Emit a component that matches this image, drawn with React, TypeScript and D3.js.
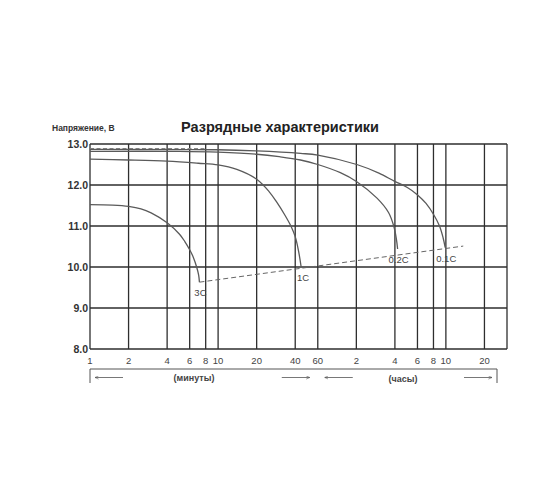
import React from 'react';
import * as d3 from 'd3';

// время в минутах, напряжение в вольтах
const curve3C: [number, number][] = [
    [1, 11.52], [1.5, 11.51], [2, 11.48], [2.5, 11.42], [3, 11.32], [4, 11.08],
    [5, 10.8], [5.5, 10.62], [6, 10.42], [6.4, 10.24], [6.8, 10.0], [7.05, 9.8], [7.15, 9.63],
];
const curve1C: [number, number][] = [
    [1, 12.63], [2, 12.61], [4, 12.58], [7, 12.53], [10, 12.49], [14, 12.38],
    [20, 12.14], [25, 11.84], [28.7, 11.58], [33, 11.28], [37, 11.0], [40, 10.74],
    [42.4, 10.4], [44.5, 10.0],
];
const curve02C: [number, number][] = [
    [1, 12.82], [5, 12.82], [10, 12.8], [20, 12.75], [30, 12.69], [44, 12.61],
    [60, 12.5], [90, 12.3], [121, 12.08], [174, 11.68], [214, 11.33], [235, 11.0],
    [246, 10.7], [252, 10.44],
];
const curve01C: [number, number][] = [
    [1, 12.87], [10, 12.86], [20, 12.83], [44, 12.77], [60, 12.73], [121, 12.5],
    [180, 12.29], [239, 12.09], [300, 11.94], [357, 11.77], [420, 11.55], [481, 11.28],
    [535, 11.0], [570, 10.72], [593, 10.47],
];
const curves = [
    { name: '3C', points: curve3C },
    { name: '1C', points: curve1C },
    { name: '0.2C', points: curve02C },
    { name: '0.1C', points: curve01C },
];
const chargedLine: [number, number][] = [[1, 12.89], [8, 12.89]];
const cutoffLine: [number, number][] = [[7.15, 9.63], [820, 10.51]];

const minuteTicks = [1, 2, 4, 6, 8, 10, 20, 40, 60, 120, 240, 360, 480, 600, 1200];
const tickLabels = ['1', '2', '4', '6', '8', '10', '20', '40', '60', '2', '4', '6', '8', '10', '20'];
const xMax = 1800;
const voltTicks = [8, 9, 10, 11, 12, 13];

const font = '"Liberation Sans", Arial, sans-serif';

const App: React.FC = () => {
    const x = d3.scaleLog().domain([1, xMax]).range([90, 507]);
    const y = d3.scaleLinear().domain([8, 13]).range([349, 144]);
    const line = d3.line<[number, number]>()
        .x(d => x(d[0]))
        .y(d => y(d[1]))
        .curve(d3.curveCatmullRom.alpha(0.5));
    const straight = d3.line<[number, number]>().x(d => x(d[0])).y(d => y(d[1]));

    const [x0, x1] = x.range();
    const [yb, yt] = y.range();
    const brY = 369;
    const brRight = x1 - 10;
    const arrowY = 377.5;
    const hourStart = x(60) + 7;

    return (
        <svg width={560} height={504} style={{ position: 'absolute', left: 0, top: 0, background: '#fff' }}
            fontFamily={font}>
            <defs>
                <marker id="ah" viewBox="0 0 10 10" refX="9" refY="5" markerWidth="5" markerHeight="5" orient="auto-start-reverse">
                    <path d="M0,1 L9,5 L0,9" fill="none" stroke="#555" strokeWidth="1.4" />
                </marker>
            </defs>
            <rect width={560} height={504} fill="#fff" />

            <text x={280} y={132} textAnchor="middle" fontSize={14.5} fontWeight="bold" fill="#222">
                Разрядные характеристики
            </text>
            <text x={52} y={131} fontSize={8.5} fontWeight="bold" fill="#333">Напряжение, В</text>

            {/* сетка */}
            <g stroke="#2e2e2e" strokeWidth={1.3}>
                {voltTicks.map(v => (
                    <line key={'h' + v} x1={x0} x2={x1} y1={y(v)} y2={y(v)} />
                ))}
                {[...minuteTicks, xMax].map(t => (
                    <line key={'v' + t} x1={x(t)} x2={x(t)} y1={yt} y2={yb} />
                ))}
            </g>

            {voltTicks.map(v => (
                <text key={'yl' + v} x={88} y={y(v)} dy="0.36em" textAnchor="end" fontSize={10.5}
                    fontWeight="bold" fill="#333">{v.toFixed(1)}</text>
            ))}
            {minuteTicks.map((t, i) => (
                <text key={'xl' + t} x={x(t)} y={364} textAnchor="middle" fontSize={9.5} fill="#444">
                    {tickLabels[i]}
                </text>
            ))}

            {/* кривые разряда */}
            <path d={straight(chargedLine)!} fill="none" stroke="#888" strokeWidth={1.2} strokeDasharray="4,2.5" />
            {curves.map(c => (
                <path key={c.name} d={line(c.points)!} fill="none" stroke="#5a5a5a" strokeWidth={1.3} />
            ))}
            <path d={straight(cutoffLine)!} fill="none" stroke="#666" strokeWidth={1} strokeDasharray="5,3" />
            {curves.map(c => {
                const end = c.points[c.points.length - 1];
                return (
                    <text key={'l' + c.name} x={x(end[0]) + (c.name === '1C' ? 2 : 1)} y={y(end[1]) + 11}
                        dy="0.35em" textAnchor="middle" fontSize={9.5} fill="#444">{c.name}</text>
                );
            })}

            {/* шкала времени */}
            <g stroke="#555" strokeWidth={1} fill="none">
                <line x1={x0} x2={brRight} y1={brY} y2={brY} />
                <line x1={x0} x2={x0} y1={brY} y2={brY + 14} />
                <line x1={brRight} x2={brRight} y1={brY} y2={brY + 14} />
            </g>
            <g stroke="#555" strokeWidth={0.8}>
                <line x1={x0 + 33} x2={x0 + 5} y1={arrowY} y2={arrowY} markerEnd="url(#ah)" />
                <line x1={x(60) - 36} x2={x(60) - 8} y1={arrowY} y2={arrowY} markerEnd="url(#ah)" />
                <line x1={hourStart + 28} x2={hourStart} y1={arrowY} y2={arrowY} markerEnd="url(#ah)" />
                <line x1={brRight - 33} x2={brRight - 5} y1={arrowY} y2={arrowY} markerEnd="url(#ah)" />
            </g>
            <text x={194} y={381} textAnchor="middle" fontSize={9} fontWeight="bold" fill="#444">(минуты)</text>
            <text x={403} y={382} textAnchor="middle" fontSize={9} fontWeight="bold" fill="#444">(часы)</text>
        </svg>
    );
};

export default App;
